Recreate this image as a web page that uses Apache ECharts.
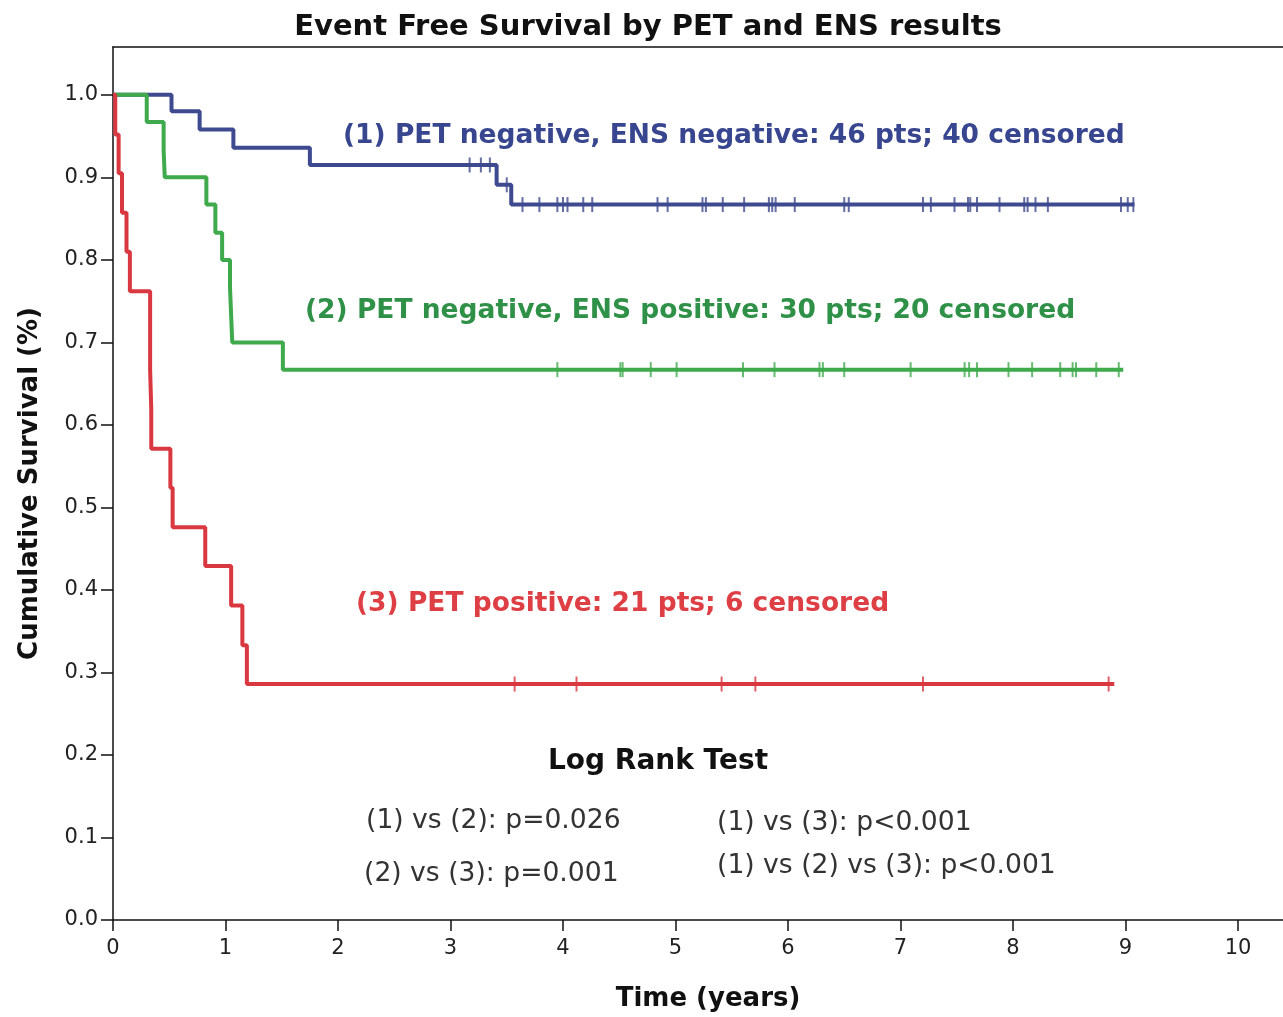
<!DOCTYPE html>
<html>
<head>
<meta charset="utf-8">
<script src="https://cdn.jsdelivr.net/npm/echarts@6/dist/echarts.min.js"></script>
<style>
html,body{margin:0;padding:0;background:#fff;}
#chart{width:1283px;height:1017px;}
</style>
</head>
<body>
<div id="chart"></div>
<script>
// ---- Data ----
const xTicks = [0,1,2,3,4,5,6,7,8,9,10];
const yTicks = [0,0.1,0.2,0.3,0.4,0.5,0.6,0.7,0.8,0.9,1.0];

// (1) PET negative, ENS negative
const blueTimes = [0, 0.52, 0.77, 1.07, 1.75, 3.41, 3.54];
const blueSurv  = [1.0, 0.980, 0.958, 0.936, 0.915, 0.891, 0.867];
const blueEnd   = 9.08;
const blueCensor = [3.17,3.27,3.35,3.50,3.64,3.79,3.95,4.00,4.04,4.18,4.26,4.84,4.93,5.24,5.27,5.42,5.61,5.83,5.86,5.89,6.06,6.50,6.54,7.20,7.27,7.48,7.60,7.62,7.68,7.88,8.10,8.13,8.20,8.31,8.96,9.02,9.07];

// (2) PET negative, ENS positive
const greenTimes = [0, 0.30, 0.45, 0.46, 0.83, 0.91, 0.97, 1.04, 1.05, 1.06, 1.51];
const greenSurv  = [1.0, 0.967, 0.933, 0.900, 0.867, 0.833, 0.800, 0.767, 0.733, 0.700, 0.667];
const greenEnd   = 8.98;
const greenCensor = [3.95,4.51,4.53,4.78,5.01,5.60,5.88,6.28,6.31,6.50,7.09,7.57,7.61,7.68,7.96,8.17,8.42,8.53,8.56,8.74,8.94];

// (3) PET positive
const redTimes = [0, 0.02, 0.05, 0.08, 0.12, 0.15, 0.33, 0.33, 0.34, 0.34, 0.51, 0.53, 0.82, 1.05, 1.15, 1.19];
const redSurv  = [1.0, 0.952, 0.905, 0.857, 0.810, 0.762, 0.714, 0.667, 0.619, 0.571, 0.524, 0.476, 0.429, 0.381, 0.333, 0.286];
const redEnd   = 8.90;
const redCensor = [3.57,4.12,5.41,5.71,7.20,8.85];

const titleText = 'Event Free Survival by PET and ENS results';
const label1 = '(1) PET negative, ENS negative: 46 pts; 40 censored';
const label2 = '(2) PET negative, ENS positive: 30 pts; 20 censored';
const label3 = '(3) PET positive: 21 pts; 6 censored';
const logRankTitle = 'Log Rank Test';
const logRank = ['(1) vs (2): p=0.026','(2) vs (3): p=0.001','(1) vs (3): p<0.001','(1) vs (2) vs (3): p<0.001'];

// ---- helpers ----
function curve(times, surv, end){
  const d = times.map((t,i)=>[t, surv[i]]);
  d.push([end, surv[surv.length-1]]);
  return d;
}
function levelAt(times, surv, t){
  let s = surv[0];
  for (let i=0;i<times.length;i++){ if (times[i] <= t) s = surv[i]; }
  return s;
}
function censorPts(cs, times, surv){
  return cs.map(t=>[t, levelAt(times, surv, t)]);
}

const BLUE='#3d4a8f', GREEN='#3eaa4c', RED='#da3841';
const BLUE_T='#38468f', GREEN_T='#2f9148', RED_T='#de3f44';

const chart = echarts.init(document.getElementById('chart'), null, {renderer:'canvas'});
const BOLD = 'bold 26.5px "DejaVu Sans"';
const REG = '26.6px "DejaVu Sans"';

function lineSeries(name, data, color){
  return {name, type:'line', step:'end', data, showSymbol:false, symbol:'none',
    lineStyle:{color, width:4}, itemStyle:{color}, z:3, animation:false};
}
function censorSeries(name, data, color){
  return {name, type:'scatter', data, symbol:'rect', symbolSize:[2,15],
    itemStyle:{color}, z:4, animation:false};
}
function txt(x, y, text, font, fill, align){
  return {type:'text', x, y, style:{text, font, fill, align, verticalAlign:'middle', textAlign:align, textVerticalAlign:'middle'}};
}

const option = {
  backgroundColor:'#fff',
  animation:false,
  grid:{left:113, right:0, top:47, bottom:97, containLabel:false},
  xAxis:[{
    type:'value', min:0, max:10.4, interval:1,
    name:'Time (years)', nameLocation:'middle', nameGap:66,
    nameTextStyle:{fontFamily:'DejaVu Sans', fontWeight:'bold', fontSize:26, color:'#111', padding:[0,0,0,20]},
    axisLine:{show:true, onZero:false, lineStyle:{color:'#111', width:1.5}},
    axisTick:{show:true, length:11, lineStyle:{color:'#111', width:1.5}, customValues:xTicks},
    axisLabel:{fontFamily:'DejaVu Sans', fontSize:21, color:'#222', margin:18, customValues:xTicks,
      formatter:v=>String(v)},
    splitLine:{show:false}
  },{
    type:'value', position:'top', min:0, max:10.4,
    axisLine:{show:true, onZero:false, lineStyle:{color:'#111', width:1.5}},
    axisTick:{show:false}, axisLabel:{show:false}, splitLine:{show:false}
  }],
  yAxis:{
    type:'value', min:0, max:1.058, interval:0.1,
    name:'Cumulative Survival (%)', nameLocation:'middle', nameGap:70, nameRotate:90,
    nameTextStyle:{fontFamily:'DejaVu Sans', fontWeight:'bold', fontSize:26, color:'#111'},
    axisLine:{show:true, onZero:false, lineStyle:{color:'#111', width:1.5}},
    axisTick:{show:true, length:12, lineStyle:{color:'#111', width:1.5}, customValues:yTicks},
    axisLabel:{fontFamily:'DejaVu Sans', fontSize:21, color:'#222', margin:15, customValues:yTicks,
      formatter:v=>v.toFixed(1)},
    splitLine:{show:false}
  },
  series:[
    lineSeries('blue', curve(blueTimes, blueSurv, blueEnd), BLUE),
    lineSeries('green', curve(greenTimes, greenSurv, greenEnd), GREEN),
    lineSeries('red', curve(redTimes, redSurv, redEnd), RED),
    censorSeries('blueC', censorPts(blueCensor, blueTimes, blueSurv), BLUE),
    censorSeries('greenC', censorPts(greenCensor, greenTimes, greenSurv), GREEN),
    censorSeries('redC', censorPts(redCensor, redTimes, redSurv), RED)
  ],
  graphic:[
    txt(648, 27, titleText, 'bold 29px "DejaVu Sans"', '#111', 'center'),
    txt(343, 136, label1, BOLD, BLUE_T, 'left'),
    txt(305, 311, label2, BOLD, GREEN_T, 'left'),
    txt(356, 604, label3, BOLD, RED_T, 'left'),
    txt(658, 762, logRankTitle, 'bold 28px "DejaVu Sans"', '#111', 'center'),
    txt(366, 821, logRank[0], REG, '#333', 'left'),
    txt(364, 874, logRank[1], REG, '#333', 'left'),
    txt(717, 823, logRank[2], REG, '#333', 'left'),
    txt(717, 866, logRank[3], REG, '#333', 'left')
  ]
};
chart.setOption(option);
</script>
</body>
</html>
